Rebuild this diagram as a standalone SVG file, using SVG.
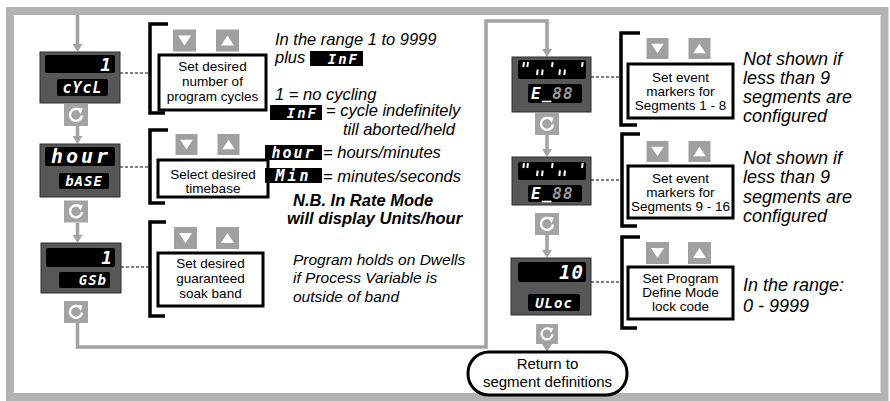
<svg xmlns="http://www.w3.org/2000/svg" width="890" height="401" viewBox="0 0 890 401">
<style>
.frame{fill:none;stroke:#b3b3b3;stroke-width:8}
.conn{fill:none;stroke:#a3a3a3;stroke-width:3.5}
.dash{fill:none;stroke:#555;stroke-width:1.3;stroke-dasharray:3 2}
.body{fill:#575757;stroke:#2e2e2e;stroke-width:1}
.lcd{fill:#000}
.seg{font-family:"DejaVu Sans Mono",monospace;font-weight:bold;font-style:italic;fill:#fff}
.dim{fill:#9a9a9a}
.brk{fill:none;stroke:#000;stroke-width:3.5}
.box{fill:#fff;stroke:#000;stroke-width:3}
.bt{font-family:"Liberation Sans",Arial,sans-serif;font-size:13.5px;text-anchor:middle;fill:#000}
.note{font-family:"Liberation Sans",Arial,sans-serif;font-style:italic;font-size:16.5px;fill:#000}
.nb{font-family:"Liberation Sans",Arial,sans-serif;font-style:italic;font-weight:bold;font-size:16.5px;fill:#000}
.note2{font-family:"Liberation Sans",Arial,sans-serif;font-style:italic;font-size:15.5px;fill:#000}
.big{font-family:"Liberation Sans",Arial,sans-serif;font-style:italic;font-size:18px;fill:#000}
.term{fill:#fff;stroke:#000;stroke-width:3}
.tt{font-family:"Liberation Sans",Arial,sans-serif;font-size:15px;text-anchor:middle;fill:#000}
.tick{fill:none;stroke:#fff;stroke-width:2}
</style>
<defs>
<marker id="ah" viewBox="0 0 8 10" refX="1" refY="5" markerWidth="8" markerHeight="10" markerUnits="userSpaceOnUse" orient="auto"><path d="M0,0 L8,5 L0,10 z" fill="#a3a3a3"/></marker>
<symbol id="cyc" viewBox="0 0 24 22"><rect width="24" height="22" fill="#a3a3a3"/><path d="M15.8,6.2 A6,6 0 1 0 18,11.5" fill="none" stroke="#fff" stroke-width="2.4"/><path d="M12.5,3.8 L18.8,4.6 L16.6,10z" fill="#fff"/></symbol>
<symbol id="dn" viewBox="0 0 23 22"><rect width="23" height="22" fill="#a0a0a0"/><path d="M5,6 H18 L11.5,16z" fill="#fff"/></symbol>
<symbol id="up" viewBox="0 0 23 22"><rect width="23" height="22" fill="#a0a0a0"/><path d="M5,16 H18 L11.5,6z" fill="#fff"/></symbol>
<path id="ticks" class="tick" d="M524,62 L523.3,67 M528,62 L527.3,67 M537.7,69.5 L537,75 M542.7,69.5 L542,75 M552.7,62 L552,67 M560,69.5 L559.3,75 M565,69.5 L564.3,75 M582.7,62 L582,67"/>
</defs>

<rect class="frame" x="10" y="11" width="874.5" height="386"/>

<g id="connectors">
<path class="conn" d="M77.5,15 V45" marker-end="url(#ah)"/>
<path class="conn" d="M77.5,126 V137" marker-end="url(#ah)"/>
<path class="conn" d="M77.5,223 V236" marker-end="url(#ah)"/>
<path class="conn" d="M77.5,323 V347 H486 V21 H547 V50" marker-end="url(#ah)"/>
<path class="conn" d="M547,135 V150" marker-end="url(#ah)"/>
<path class="conn" d="M547,235 V251" marker-end="url(#ah)"/>
<path class="conn" d="M547,344 V345" marker-end="url(#ah)"/>
<path class="dash" d="M120,73 H150"/>
<path class="dash" d="M120,167 H150"/>
<path class="dash" d="M121,267 H150"/>
<path class="dash" d="M591,77 H621"/>
<path class="dash" d="M591,180 H622"/>
<path class="dash" d="M591,282 H622"/>
</g>

<g id="disp-cycl">
<rect class="body" x="40" y="52" width="80" height="51"/>
<rect class="lcd" x="45" y="55" width="70" height="18" rx="2"/>
<text class="seg" x="111" y="71" font-size="18" text-anchor="end">1</text>
<rect class="lcd" x="57" y="79" width="51" height="17" rx="2"/>
<text class="seg" x="82.5" y="93" font-size="15" text-anchor="middle" letter-spacing="1">cYcL</text>
<use href="#cyc" x="64" y="104" width="24" height="22"/>
</g>

<g id="disp-base">
<rect class="body" x="40" y="144" width="80" height="53"/>
<rect class="lcd" x="45" y="147" width="70" height="19" rx="2"/>
<text class="seg" x="81" y="163" font-size="20" text-anchor="middle" letter-spacing="3">hour</text>
<rect class="lcd" x="59" y="173" width="50" height="16" rx="2"/>
<text class="seg" x="84" y="186" font-size="14" text-anchor="middle" letter-spacing="1">bASE</text>
<use href="#cyc" x="64" y="200" width="24" height="23"/>
</g>

<g id="disp-gsb">
<rect class="body" x="41" y="243" width="80" height="50"/>
<rect class="lcd" x="46" y="248" width="69" height="19" rx="2"/>
<text class="seg" x="112" y="264" font-size="18" text-anchor="end">1</text>
<rect class="lcd" x="59" y="272" width="51" height="16" rx="2"/>
<text class="seg" x="107" y="285" font-size="14" text-anchor="end" letter-spacing="1">GSb</text>
<use href="#cyc" x="64" y="301" width="24" height="22"/>
</g>

<g id="disp-e1">
<rect class="body" x="512" y="57" width="79" height="55"/>
<rect class="lcd" x="518" y="60" width="68" height="19" rx="2"/>
<use href="#ticks"/>
<rect class="lcd" x="528" y="84" width="54" height="19" rx="2"/>
<text class="seg" x="531" y="99" font-size="16" letter-spacing="1">E_<tspan class="dim">88</tspan></text>
<use href="#cyc" x="535" y="113" width="24" height="22"/>
</g>

<g id="disp-e2">
<rect class="body" x="512" y="157" width="79" height="48"/>
<rect class="lcd" x="518" y="162" width="68" height="18" rx="2"/>
<use href="#ticks" y="101"/>
<rect class="lcd" x="528" y="185" width="54" height="17" rx="2"/>
<text class="seg" x="531" y="199" font-size="16" letter-spacing="1">E_<tspan class="dim">88</tspan></text>
<use href="#cyc" x="535" y="213" width="24" height="22"/>
</g>

<g id="disp-uloc">
<rect class="body" x="511" y="258" width="80" height="57"/>
<rect class="lcd" x="518" y="262" width="68" height="20" rx="2"/>
<text class="seg" x="584" y="279" font-size="19" text-anchor="end" letter-spacing="1">10</text>
<rect class="lcd" x="528" y="294" width="52" height="17" rx="2"/>
<text class="seg" x="554" y="308" font-size="14" text-anchor="middle" letter-spacing="1">ULoc</text>
<use href="#cyc" x="535" y="324" width="24" height="20"/>
</g>

<g id="set-cycles">
<path class="brk" d="M168,24 H150 V113 H165"/>
<use href="#dn" x="173" y="29" width="23" height="23"/>
<use href="#up" x="216" y="29" width="23" height="23"/>
<rect class="box" x="159" y="55" width="107" height="55"/>
<text class="bt" x="212.5" y="71">Set desired</text>
<text class="bt" x="212.5" y="86">number of</text>
<text class="bt" x="212.5" y="100.5">program cycles</text>
</g>

<g id="set-timebase">
<path class="brk" d="M168,130 H150 V203 H165"/>
<use href="#dn" x="175" y="134" width="23" height="21"/>
<use href="#up" x="217" y="134" width="23" height="21"/>
<rect class="box" x="158" y="160" width="110" height="37"/>
<text class="bt" x="213" y="179">Select desired</text>
<text class="bt" x="213" y="193">timebase</text>
</g>

<g id="set-gsb">
<path class="brk" d="M166,222 H150 V316 H165"/>
<use href="#dn" x="174" y="227" width="23" height="22"/>
<use href="#up" x="216" y="227" width="23" height="22"/>
<rect class="box" x="158" y="253" width="105" height="53"/>
<text class="bt" x="210.5" y="268">Set desired</text>
<text class="bt" x="210.5" y="283">guaranteed</text>
<text class="bt" x="210.5" y="297.5">soak band</text>
</g>

<g id="set-ev1">
<path class="brk" d="M640,33 H621 V125 H637"/>
<use href="#dn" x="646" y="38" width="23" height="21"/>
<use href="#up" x="688" y="38" width="23" height="21"/>
<rect class="box" x="628" y="64" width="105" height="54"/>
<text class="bt" x="680.5" y="82">Set event</text>
<text class="bt" x="680.5" y="96">markers for</text>
<text class="bt" x="680.5" y="110">Segments 1 - 8</text>
</g>

<g id="set-ev2">
<path class="brk" d="M640,134 H622 V226 H637"/>
<use href="#dn" x="646" y="141" width="23" height="21"/>
<use href="#up" x="688" y="141" width="23" height="21"/>
<rect class="box" x="628" y="166" width="105" height="52"/>
<text class="bt" x="680.5" y="183">Set event</text>
<text class="bt" x="680.5" y="197">markers for</text>
<text class="bt" x="680.5" y="211">Segments 9 - 16</text>
</g>

<g id="set-lock">
<path class="brk" d="M640,237 H622 V328 H637"/>
<use href="#dn" x="646" y="242" width="23" height="22"/>
<use href="#up" x="688" y="242" width="23" height="22"/>
<rect class="box" x="628" y="267" width="105" height="52"/>
<text class="bt" x="680.5" y="283">Set Program</text>
<text class="bt" x="680.5" y="297">Define Mode</text>
<text class="bt" x="680.5" y="311">lock code</text>
</g>

<g id="note-cycles">
<text class="note" x="275" y="45">In the range 1 to 9999</text>
<text class="note" x="275" y="63">plus</text>
<rect class="lcd" x="310" y="51" width="53" height="15"/>
<text class="seg" x="359" y="63.5" font-size="14" text-anchor="end" letter-spacing="2">InF</text>
<text class="note" x="275" y="100">1 = no cycling</text>
<rect class="lcd" x="270" y="105" width="52" height="15"/>
<text class="seg" x="318" y="117.5" font-size="14" text-anchor="end" letter-spacing="2">InF</text>
<text class="note" x="326" y="116">= cycle indefinitely</text>
<text class="note" x="343" y="135">till aborted/held</text>
</g>

<g id="note-timebase">
<rect class="lcd" x="265" y="145" width="57" height="15"/>
<text class="seg" x="293.5" y="157.5" font-size="15" text-anchor="middle" letter-spacing="2">hour</text>
<text class="note" x="323" y="158">= hours/minutes</text>
<rect class="lcd" x="265" y="168" width="57" height="15"/>
<text class="seg" x="293.5" y="180.5" font-size="15" text-anchor="middle" letter-spacing="3">Min</text>
<text class="note" x="323" y="182">= minutes/seconds</text>
<text class="nb" x="293" y="206">N.B. In Rate Mode</text>
<text class="nb" x="287" y="224">will display Units/hour</text>
</g>

<g id="note-gsb">
<text class="note2" x="293" y="265">Program holds on Dwells</text>
<text class="note2" x="293" y="283">if Process Variable is</text>
<text class="note2" x="293" y="302">outside of band</text>
</g>

<g id="note-ev1">
<text class="big" x="743" y="65">Not shown if</text>
<text class="big" x="743" y="84">less than 9</text>
<text class="big" x="743" y="103">segments are</text>
<text class="big" x="743" y="122">configured</text>
</g>

<g id="note-ev2">
<text class="big" x="743" y="164">Not shown if</text>
<text class="big" x="743" y="183">less than 9</text>
<text class="big" x="743" y="203">segments are</text>
<text class="big" x="743" y="222">configured</text>
</g>

<g id="note-lock">
<text class="big" x="743" y="291" font-size="19.5">In the range:</text>
<text class="big" x="743" y="312" font-size="19.5">0 - 9999</text>
</g>

<g id="return">
<rect class="term" x="468" y="352" width="159" height="43" rx="21" ry="21"/>
<text class="tt" x="547.5" y="369">Return to</text>
<text class="tt" x="547.5" y="387">segment definitions</text>
</g>
</svg>
